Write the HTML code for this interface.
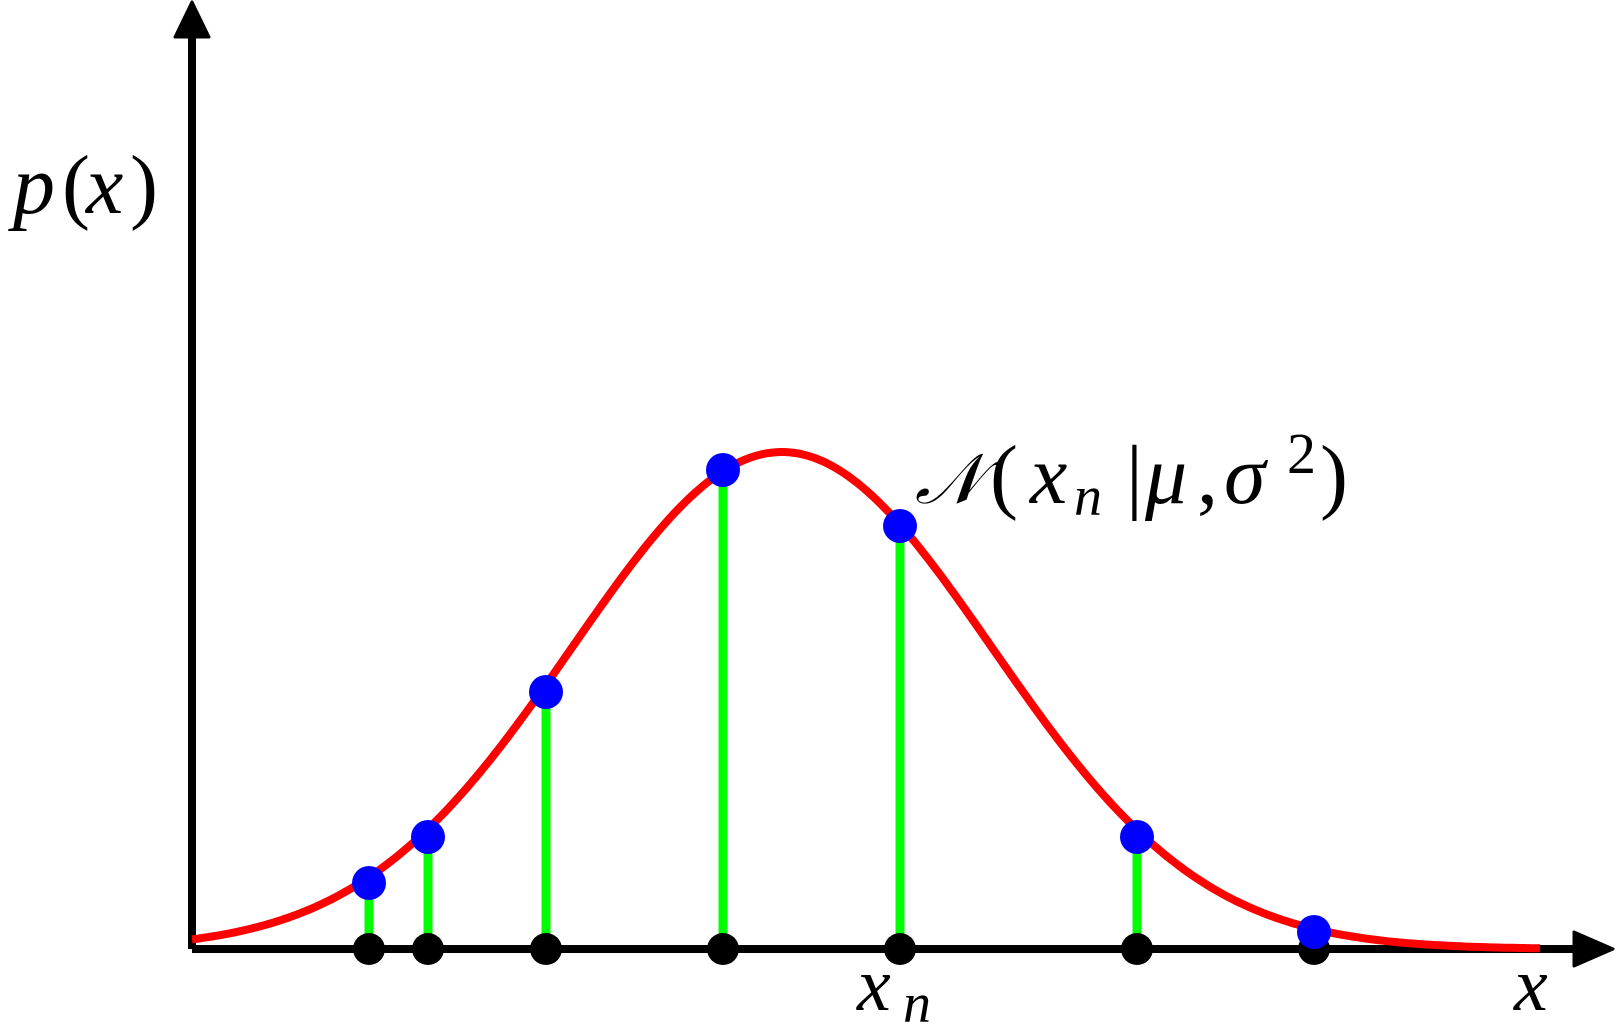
<!DOCTYPE html>
<html><head><meta charset="utf-8"><style>
html,body{margin:0;padding:0;background:#fff;}
svg{display:block;}
text{font-family:"Liberation Serif",serif;font-style:italic;fill:#000;}
.u{font-style:normal;}
</style></head><body>
<svg id="s" width="1617" height="1033" viewBox="0 0 1617 1033">
<g stroke="#00ff00" stroke-width="9">
<line x1="369" y1="883" x2="369" y2="949"/>
<line x1="428" y1="837" x2="428" y2="949"/>
<line x1="546" y1="692" x2="546" y2="949"/>
<line x1="723" y1="470" x2="723" y2="949"/>
<line x1="900" y1="526" x2="900" y2="949"/>
<line x1="1137" y1="837" x2="1137" y2="949"/>
</g>
<line x1="192" y1="949" x2="1580" y2="949" stroke="#000" stroke-width="8"/>
<line x1="192" y1="949" x2="192" y2="35" stroke="#000" stroke-width="8"/>
<polygon points="1574,932 1613,949 1574,966" fill="#000" stroke="#000" stroke-width="3" stroke-linejoin="round"/>
<polygon points="175,37 192,2 209,37" fill="#000" stroke="#000" stroke-width="3" stroke-linejoin="round"/>
<path id="curve" d="" fill="none" stroke="#ff0000" stroke-width="8"/>
<g fill="#000">
<circle cx="369" cy="949" r="16"/><circle cx="428" cy="949" r="16"/>
<circle cx="546" cy="949" r="16"/><circle cx="723" cy="949" r="16"/>
<circle cx="900" cy="949" r="16"/><circle cx="1137" cy="949" r="16"/>
<circle cx="1314" cy="949" r="16"/>
</g>
<g fill="#0000ff">
<circle cx="369" cy="883" r="17"/><circle cx="428" cy="837" r="17"/>
<circle cx="546" cy="692" r="17"/><circle cx="723" cy="470" r="17"/>
<circle cx="900" cy="526" r="17"/><circle cx="1137" cy="837" r="17"/>
<circle cx="1314" cy="932" r="17"/>
</g>
<g font-size="84">
<text x="13" y="213">p</text>
<text x="62" y="213" class="u" font-weight="300">(</text>
<text x="86" y="213">x</text>
<text x="130" y="213" class="u">)</text>
</g>
<text x="857" y="1010" font-size="76">x</text>
<text x="903" y="1022" font-size="56">n</text>
<text x="1514" y="1010" font-size="76">x</text>
<g font-size="84">
<text x="915" y="503" font-family="DejaVu Serif" font-size="70">𝒩</text>
<text x="990" y="503" class="u">(</text>
<text x="1030" y="503">x</text>
<text x="1074" y="515" font-size="56">n</text>
<text x="1126" y="503" class="u">|</text>
<text x="1145" y="503">μ</text>
<text x="1197" y="503" class="u">,</text>
<text x="1224" y="503">σ</text>
<text x="1287" y="473" class="u" font-size="58">2</text>
<text x="1320" y="503" class="u">)</text>
</g>
</svg>
<script>
var d="";for(var x=192;x<=1540;x+=4){var y=949-497*Math.exp(-Math.pow(x-782,2)/(2*210*210));d+=(x==192?"M":"L")+x+","+y.toFixed(1);}
document.getElementById("curve").setAttribute("d",d);
</script>
</body></html>
